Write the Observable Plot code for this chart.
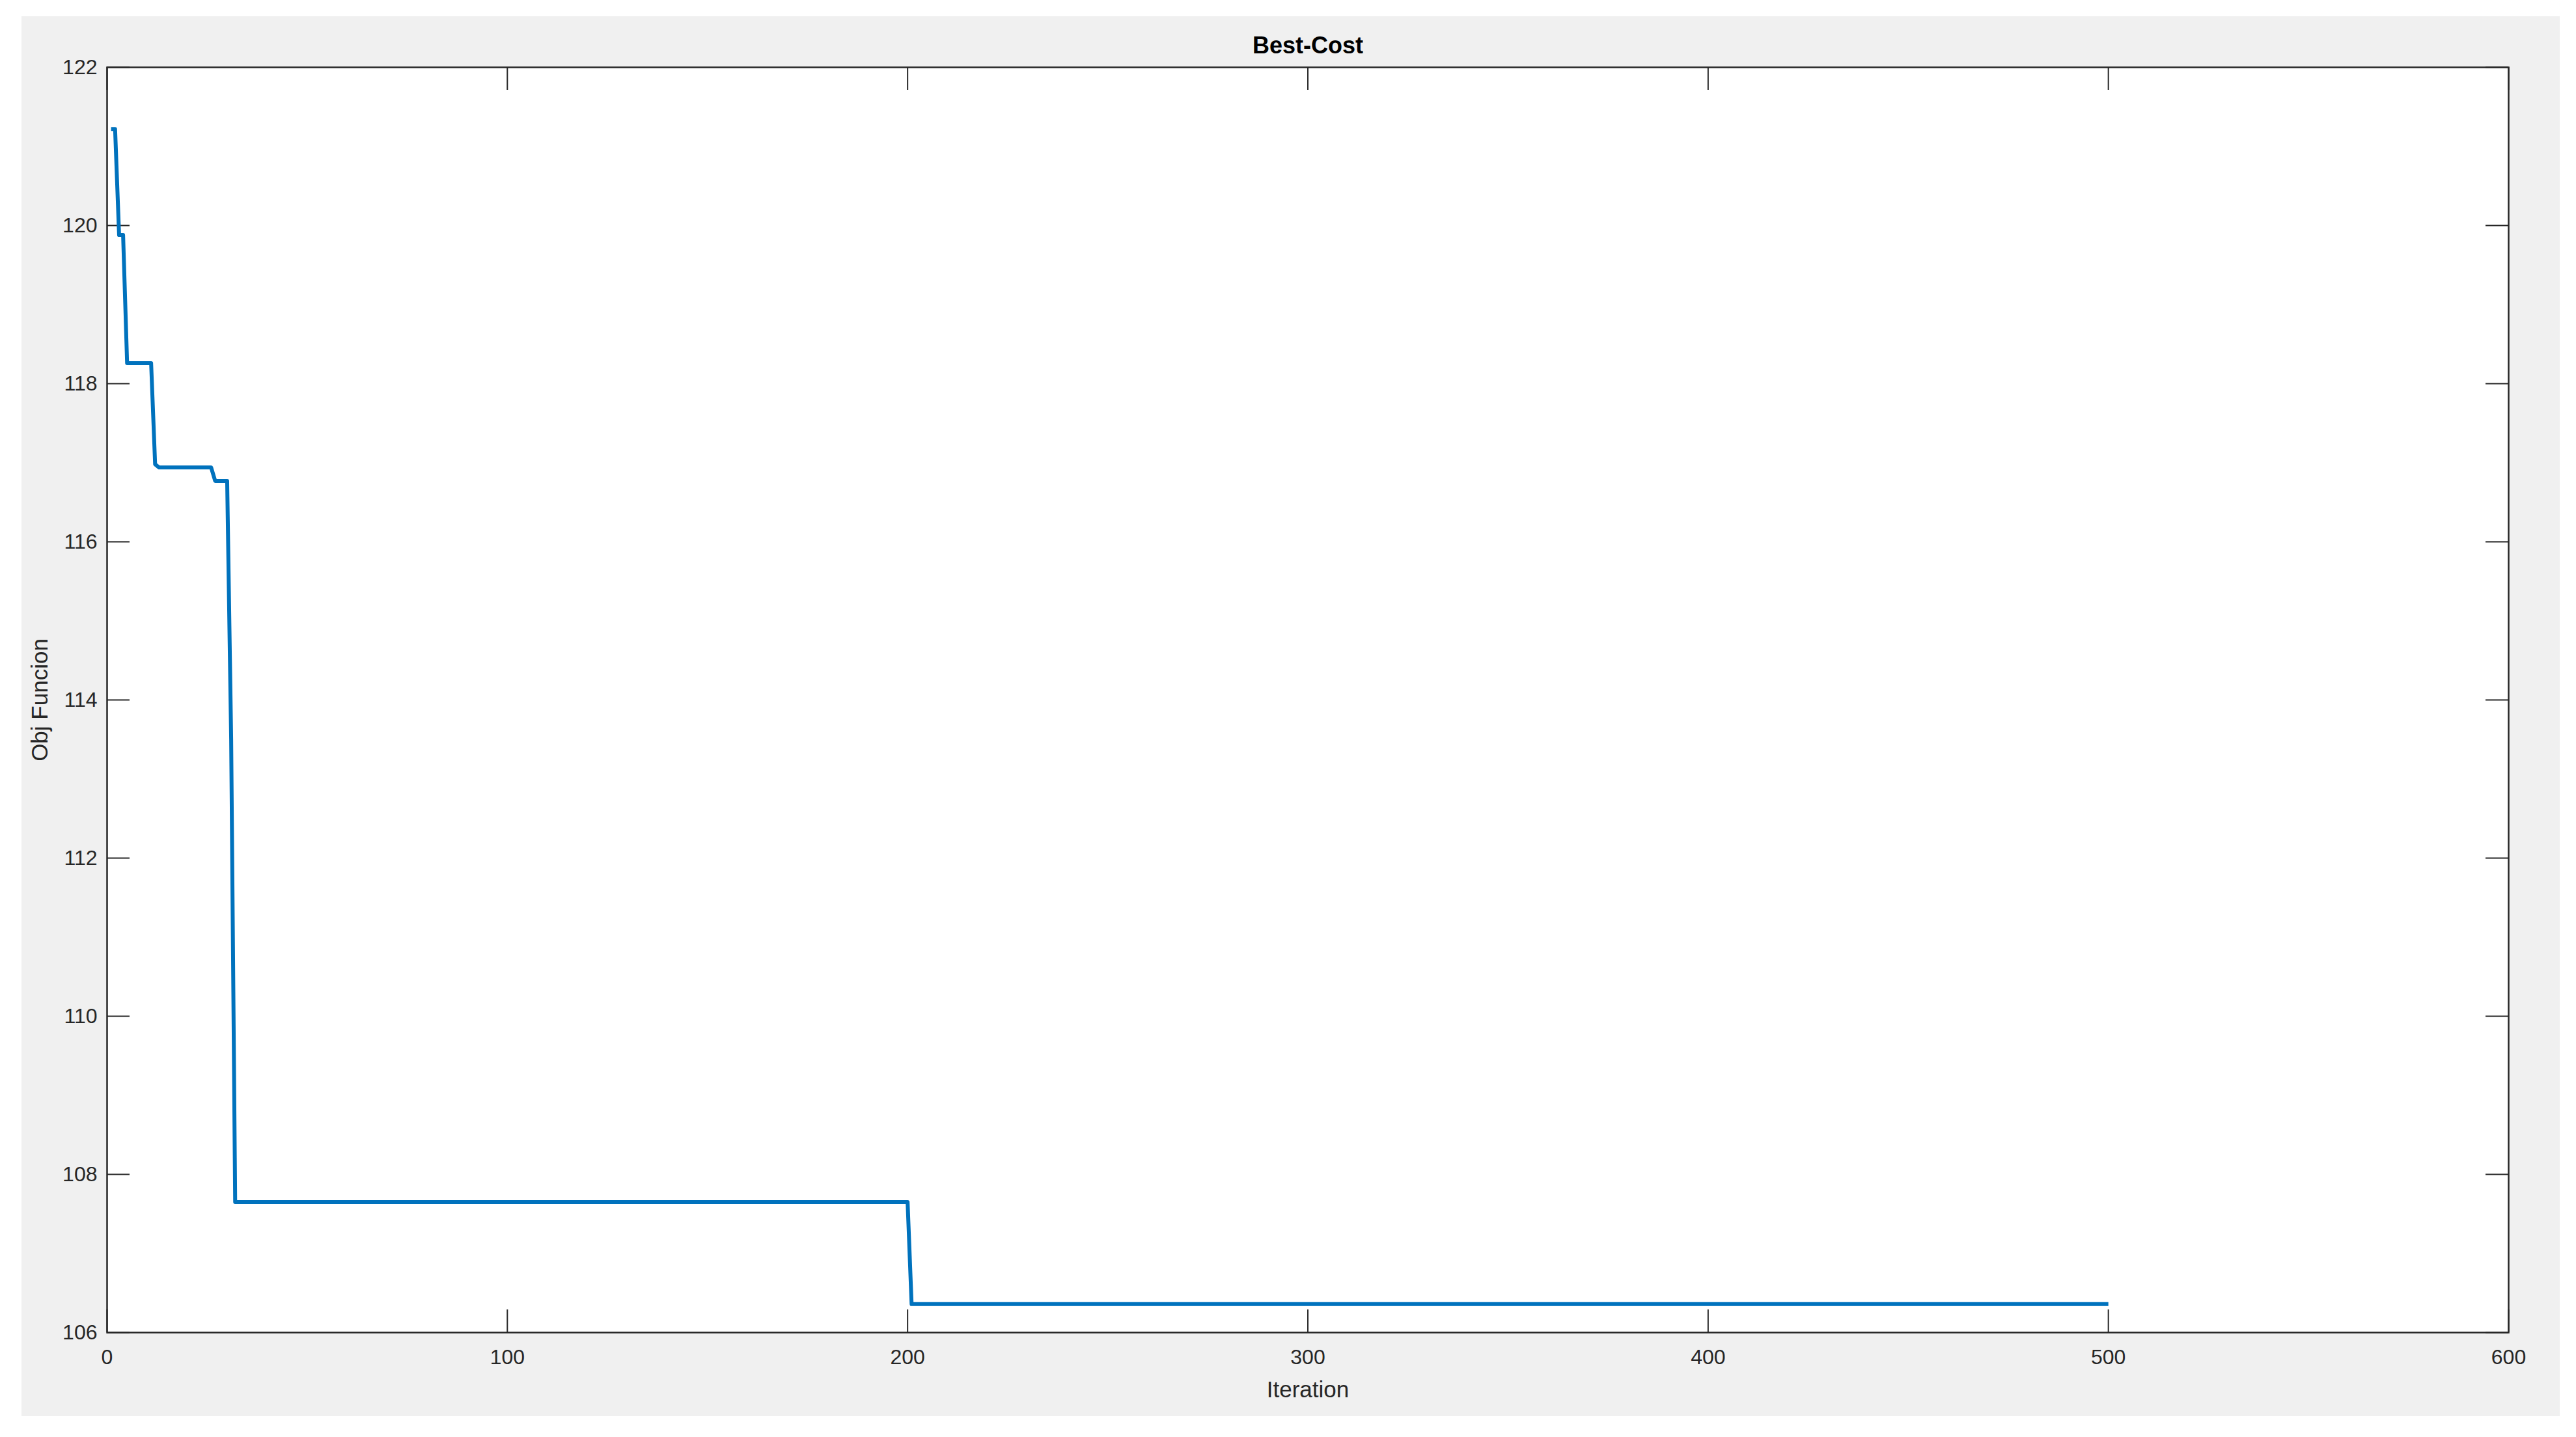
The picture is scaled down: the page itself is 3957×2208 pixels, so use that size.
<!DOCTYPE html>
<html>
<head>
<meta charset="utf-8">
<script src="https://cdn.jsdelivr.net/npm/d3@7"></script>
<script src="https://cdn.jsdelivr.net/npm/@observablehq/plot@0.6"></script>
<style>
  html, body { margin: 0; padding: 0; background: #ffffff; }
  #wrap { position: relative; width: 3957px; height: 2208px; overflow: hidden; }
  #figbg { position: absolute; left: 33px; top: 25px; width: 3899px; height: 2151px; background: #f0f0f0; }
  #chart { position: absolute; left: 0; top: 0; }
</style>
</head>
<body>
<div id="wrap">
  <div id="figbg"></div>
  <div id="chart"></div>
</div>
<script>
// Best-cost convergence curve (vertices of the step polyline)
const iterations = [1, 2, 3, 4, 5, 11, 12, 13, 26, 27, 30, 31, 32, 200, 201, 500];
const bestCost   = [121.22, 121.22, 119.88, 119.88, 118.26, 118.26, 116.98, 116.94, 116.94, 116.77, 116.77, 113.5, 107.65, 107.65, 106.36, 106.36];

const xTicks = [0, 100, 200, 300, 400, 500, 600];
const yTicks = [106, 108, 110, 112, 114, 116, 118, 120, 122];

const titleText = "Best-Cost";
const xLabel = "Iteration";
const yLabel = "Obj Funcion";

const data = iterations.map((it, i) => ({iteration: it, cost: bestCost[i]}));

const W = 3957, H = 2208;
const mL = 164, mR = 104, mT = 103, mB = 161;
const frameW = W - mL - mR;
const frameH = H - mT - mB;
const tickLen = 35;
const axisColor = "#262626";
const font = "'Liberation Sans', Arial, Helvetica, sans-serif";

const chart = Plot.plot({
  width: W,
  height: H,
  marginLeft: mL,
  marginRight: mR,
  marginTop: mT,
  marginBottom: mB,
  style: {background: "transparent", fontFamily: font, overflow: "visible"},
  x: {domain: [0, 600], label: null},
  y: {domain: [106, 122], label: null},
  marks: [
    Plot.frame({fill: "#ffffff", stroke: null}),
    // inward tick marks on all four sides
    Plot.tickX(xTicks, {x: d => d, insetTop: frameH - tickLen, stroke: axisColor, strokeWidth: 2}),
    Plot.tickX(xTicks, {x: d => d, insetBottom: frameH - tickLen, stroke: axisColor, strokeWidth: 2}),
    Plot.tickY(yTicks, {y: d => d, insetRight: frameW - tickLen, stroke: axisColor, strokeWidth: 2}),
    Plot.tickY(yTicks, {y: d => d, insetLeft: frameW - tickLen, stroke: axisColor, strokeWidth: 2}),
    Plot.line(data, {x: "iteration", y: "cost", stroke: "#0072BD", strokeWidth: 6, strokeLinejoin: "round", strokeLinecap: "butt"}),
    Plot.frame({stroke: axisColor, strokeWidth: 2.5}),
    Plot.axisX({ticks: xTicks, tickSize: 0, tickPadding: 26, fontSize: 32, color: axisColor, label: null}),
    Plot.axisY({ticks: yTicks, tickSize: 0, tickPadding: 15, fontSize: 32, color: axisColor, label: null}),
    Plot.text([titleText], {frameAnchor: "top", dy: -33, text: d => d, fontSize: 36, fontWeight: "bold", fill: "#000000", textAnchor: "middle", lineAnchor: "middle"}),
    Plot.text([xLabel], {frameAnchor: "bottom", dy: 88, text: d => d, fontSize: 35, fill: axisColor, textAnchor: "middle", lineAnchor: "middle"}),
    Plot.text([yLabel], {frameAnchor: "left", dx: -103, rotate: -90, text: d => d, fontSize: 35, fill: axisColor, textAnchor: "middle", lineAnchor: "middle"})
  ]
});

document.getElementById("chart").appendChild(chart);
</script>
</body>
</html>
